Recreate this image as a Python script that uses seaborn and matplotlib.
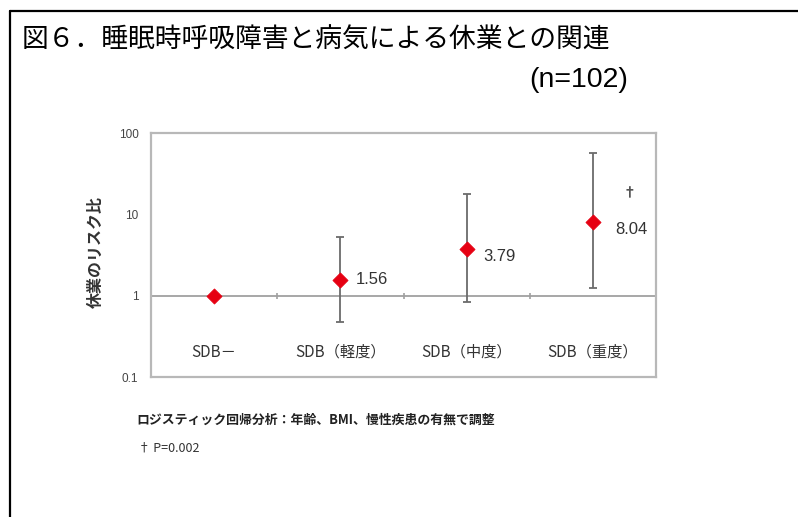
import matplotlib
matplotlib.use("Agg")
import matplotlib.pyplot as plt
from matplotlib.lines import Line2D
import seaborn as sns
import pandas as pd
import numpy as np

# ---- data ----
categories = ["SDB－", "SDB（軽度）", "SDB（中度）", "SDB（重度）"]
odds_ratio = [1.0, 1.56, 3.79, 8.04]
ci_lower = [np.nan, 0.48, 0.84, 1.25]
ci_upper = [np.nan, 5.3, 18.0, 56.0]
value_labels = ["", "1.56", "3.79", "8.04"]
y_ticks = [0.1, 1, 10, 100]
y_tick_labels = ["0.1", "1", "10", "100"]
title = "図６．睡眠時呼吸障害と病気による休業との関連"
subtitle = "(n=102)"
ylabel = "休業のリスク比"
note1 = "ロジスティック回帰分析：年齢、BMI、慢性疾患の有無で調整"
note2 = "† P=0.002"

df = pd.DataFrame({"cat": categories, "or": odds_ratio,
                   "lo": ci_lower, "hi": ci_upper})

sns.set_style("white")
plt.rcParams['font.family'] = ['Noto Sans CJK JP', 'DejaVu Sans']

W, H = 798, 517
fig = plt.figure(figsize=(W / 100, H / 100), dpi=100)
ax = fig.add_axes([151 / W, 1 - 377 / H, (656 - 151) / W, (377 - 133) / H])

pos = np.arange(len(categories))
# error bars
yerr = np.vstack([df["or"] - df["lo"], df["hi"] - df["or"]])
mask = ~np.isnan(df["lo"].values)
ax.errorbar(pos[mask], df["or"].values[mask], yerr=yerr[:, mask], fmt="none",
            ecolor="#6b6b6b", elinewidth=1.3, capsize=3, capthick=1.3, zorder=2)

sns.scatterplot(x=pos, y=df["or"], marker="D", color="#e60012", s=60,
                edgecolor="#e60012", linewidth=0.5, ax=ax, zorder=4, legend=False)

ax.set_yscale("log")
ax.set_ylim(0.1, 100)
ax.set_xlim(-0.5, len(categories) - 0.5)

# horizontal reference axis at 1 with category-boundary ticks
ax.axhline(1, color="#a0a0a0", lw=1.3, zorder=1)
bounds = pos[:-1] + 0.5
ax.vlines(bounds, 0.92, 1.09, color="#a0a0a0", lw=1.2, zorder=1)

ax.set_xticks([])
ax.set_yticks(y_ticks)
ax.set_yticklabels(y_tick_labels, fontsize=8.5, color="#444444",
                   family=['Liberation Sans', 'DejaVu Sans'])
ax.yaxis.set_minor_locator(matplotlib.ticker.NullLocator())
ax.tick_params(axis="y", length=0, pad=9)
ax.set_xlabel("")
ax.set_ylabel("")

for s in ax.spines.values():
    s.set_color("#b8b8b8")
    s.set_linewidth(1.6)

# category labels placed low inside the plot area
for p, c in zip(pos, categories):
    ax.text(p, 0.2, c, ha="center", va="center", fontsize=11, color="#333333")

# value labels
offsets = [(0, 0), (15, 0), (17, -8), (22, -7)]
for p, v, lab, off in zip(pos, odds_ratio, value_labels, offsets):
    if lab:
        ax.annotate(lab, (p, v), xytext=off, textcoords="offset pixels",
                    ha="left", va="center", fontsize=12, color="#333333",
                    family=['Liberation Sans', 'DejaVu Sans'])
# dagger marker for the severe group
ax.annotate("†", (pos[-1], odds_ratio[-1]), xytext=(37, 29),
            textcoords="offset pixels", ha="center", va="center",
            fontsize=10, fontweight="bold", color="#555555")

# y label
fig.text(96 / W, 1 - 252 / H, ylabel, rotation=90, ha="center", va="center",
         fontsize=11.5, fontweight="bold", color="#333333")

# notes
fig.text(136 / W, 1 - 420 / H, note1, ha="left", va="center", fontsize=9.3,
         fontweight="bold", color="#222222")
fig.text(138 / W, 1 - 448 / H, note2, ha="left", va="center", fontsize=9,
         color="#333333")

# title
fig.text(22 / W, 1 - 40 / H, title, ha="left", va="center", fontsize=19.3,
         color="black")
fig.text(628 / W, 1 - 80 / H, subtitle, ha="right", va="center", fontsize=20.5,
         color="black", family=['Liberation Sans', 'DejaVu Sans'])

# outer frame (top and left edges)
fig.add_artist(Line2D([10 / W, 1.0], [1 - 11 / H, 1 - 11 / H], color="black",
                      lw=1.6, transform=fig.transFigure))
fig.add_artist(Line2D([10 / W, 10 / W], [0.0, 1 - 11 / H], color="black",
                      lw=1.6, transform=fig.transFigure))

fig.savefig("out.png", dpi=100)
